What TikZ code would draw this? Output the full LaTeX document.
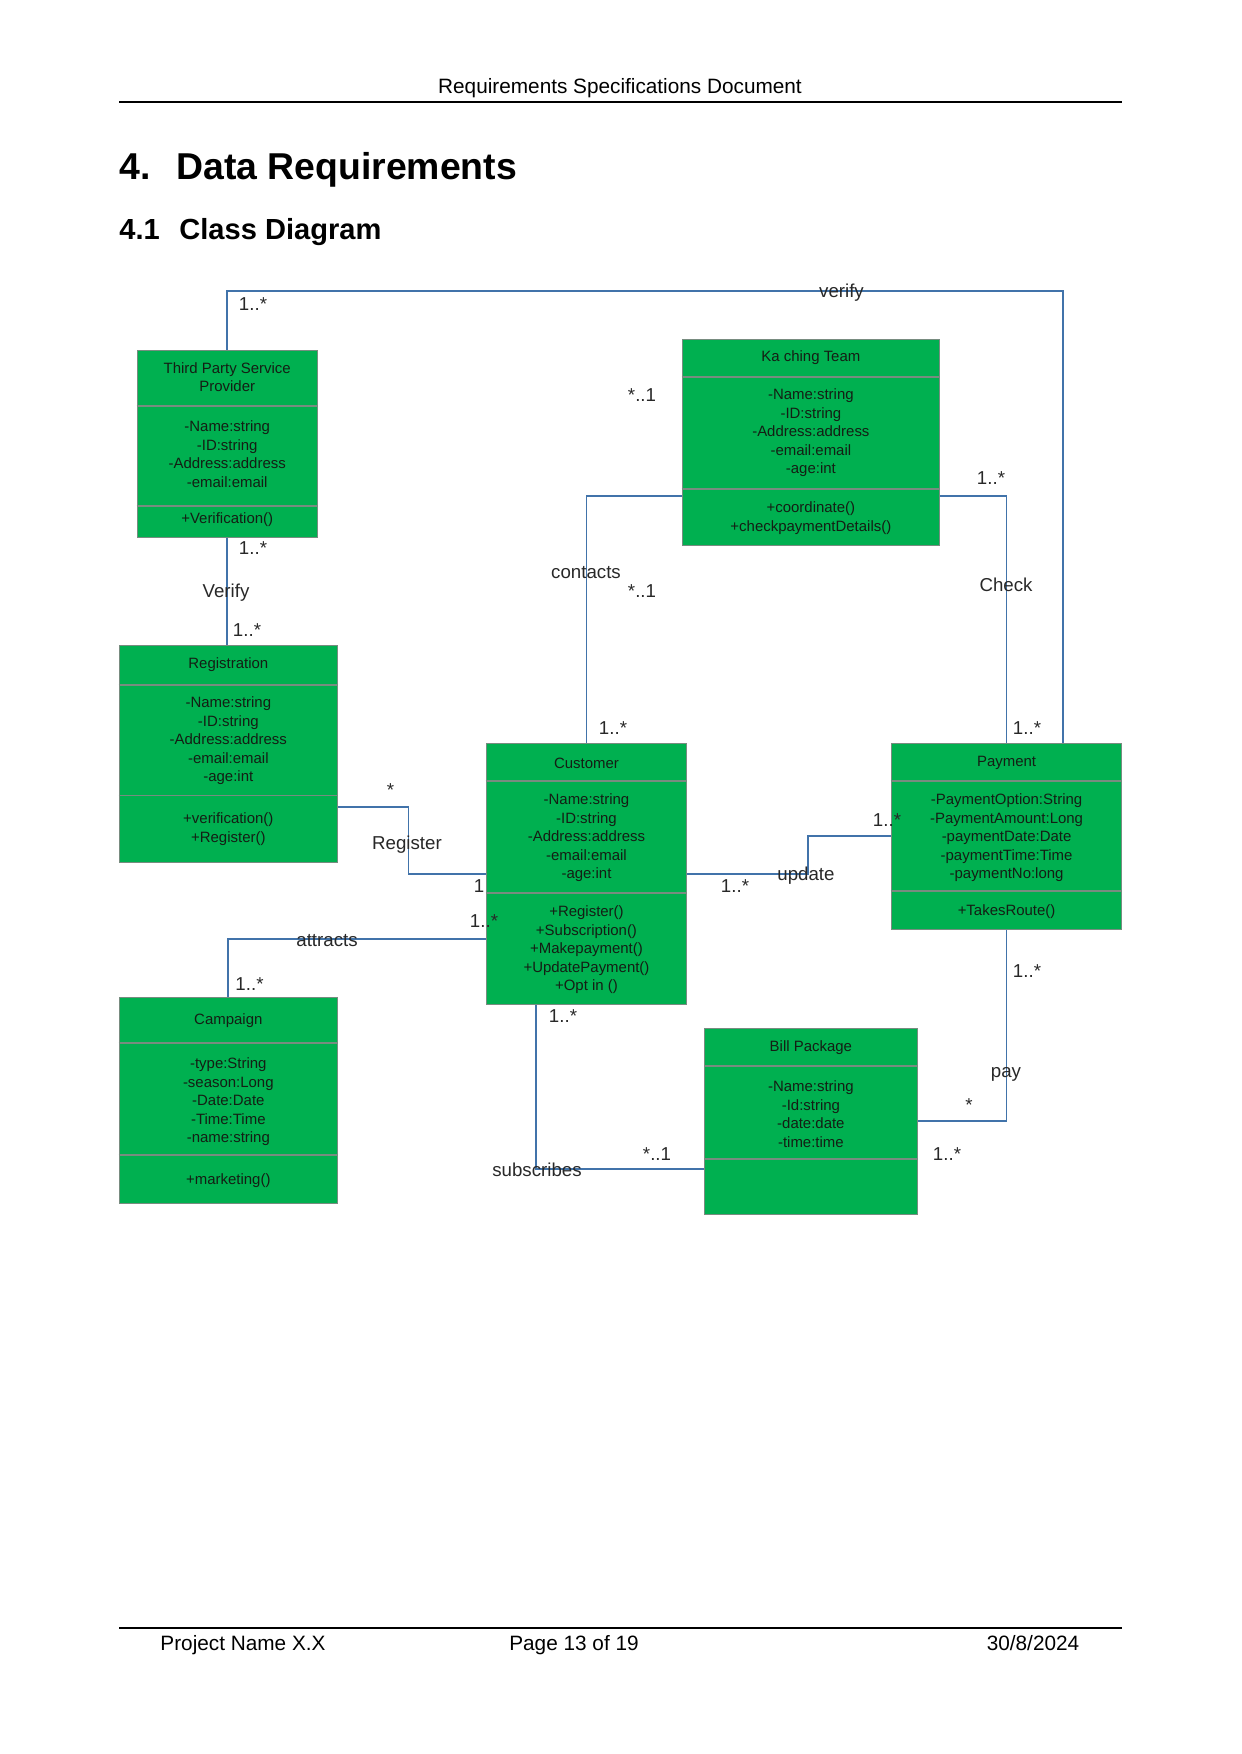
\documentclass[tikz,border=0pt]{standalone}
\usepackage{fontspec}
\setmainfont{Liberation Sans}
\usepackage{xcolor}
\usepackage{tikz}
\usetikzlibrary{positioning, calc}

\definecolor{umlgreen}{RGB}{0,176,80}
\definecolor{boxline}{RGB}{120,140,128}
\definecolor{assocblue}{RGB}{65,115,170}
\definecolor{boxtext}{RGB}{20,30,20}
\definecolor{labeltext}{RGB}{40,40,40}

\newcommand{\px}{0.016922cm}
\newcommand{\classfont}{\fontsize{7.2}{8.9}\selectfont}
\newcommand{\labelfont}{\fontsize{9}{10}\selectfont}

\tikzset{
  classbox/.style={draw=boxline, fill=umlgreen, line width=0.6pt, inner sep=0pt, anchor=north west},
  divider/.style={draw=boxline, line width=0.6pt},
  classtext/.style={font=\classfont, text=boxtext, align=center, inner sep=0pt},
  assoc/.style={draw=assocblue, line width=0.8pt},
  mult/.style={font=\labelfont, text=labeltext, inner sep=0pt},
  heading/.style={font=\fontsize{18}{21}\selectfont\bfseries, anchor=base west, inner sep=0pt},
  subheading/.style={font=\fontsize{14}{17}\selectfont\bfseries, anchor=base west, inner sep=0pt},
  pagetext/.style={font=\fontsize{10}{12}\selectfont, anchor=base, inner sep=0pt},
}

\begin{document}
\begin{tikzpicture}[x=0.016922cm, y=-0.016922cm]
        \useasboundingbox (0,0) rectangle (1241,1754);

        % Page header
        \node[pagetext] (hdr) at (620,94) {Requirements Specifications Document};
        \draw[line width=1pt] (119,102) -- (1122,102);
        \node[heading] (secnum) at (119,180) {4.};
        \node[heading] (sectitle) at (176,180) {Data Requirements};
        \node[subheading] (subnum) at (119,239.5) {4.1};
        \node[subheading] (subtitle) at (179,239.5) {Class Diagram};

        % Third Party Service Provider
        \node[classbox, minimum width=180.2*\px, minimum height=187*\px] (tpsp) at (136.5,350) {};
        \draw[divider] (tpsp.west |- 0,406) -- (tpsp.east |- 0,406);
        \draw[divider] (tpsp.west |- 0,506) -- (tpsp.east |- 0,506);
        \node[classtext] (tpspName) at (tpsp.center |- 0,377) {Third Party Service\\Provider};
        \node[classtext] (tpspAttr) at (tpsp.center |- 0,454) {-Name:string\\-ID:string\\-Address:address\\-email:email};
        \node[classtext] (tpspOps) at (tpsp.center |- 0,520) {+Verification()};

        % Ka ching Team
        \node[classbox, minimum width=257.5*\px, minimum height=206*\px] (kct) at (681.5,339) {};
        \draw[divider] (kct.west |- 0,377) -- (kct.east |- 0,377);
        \draw[divider] (kct.west |- 0,489) -- (kct.east |- 0,489);
        \node[classtext] (kctName) at (kct.center |- 0,358) {Ka ching Team};
        \node[classtext] (kctAttr) at (kct.center |- 0,433) {-Name:string\\-ID:string\\-Address:address\\-email:email\\-age:int};
        \node[classtext] (kctOps) at (kct.center |- 0,518) {+coordinate()\\+checkpaymentDetails()};

        % Registration
        \node[classbox, minimum width=218.2*\px, minimum height=217*\px] (reg) at (118.6,644.5) {};
        \draw[divider] (reg.west |- 0,685) -- (reg.east |- 0,685);
        \draw[divider] (reg.west |- 0,795.6) -- (reg.east |- 0,795.6);
        \node[classtext] (regName) at (reg.center |- 0,665) {Registration};
        \node[classtext] (regAttr) at (reg.center |- 0,741) {-Name:string\\-ID:string\\-Address:address\\-email:email\\-age:int};
        \node[classtext] (regOps) at (reg.center |- 0,829) {+verification()\\+Register()};

        % Customer
        \node[classbox, minimum width=200.5*\px, minimum height=261*\px] (cust) at (485.6,743) {};
        \draw[divider] (cust.west |- 0,781) -- (cust.east |- 0,781);
        \draw[divider] (cust.west |- 0,893) -- (cust.east |- 0,893);
        \node[classtext] (custName) at (cust.center |- 0,763) {Customer};
        \node[classtext] (custAttr) at (cust.center |- 0,838) {-Name:string\\-ID:string\\-Address:address\\-email:email\\-age:int};
        \node[classtext] (custOps) at (cust.center |- 0,950) {+Register()\\+Subscription()\\+Makepayment()\\+UpdatePayment()\\+Opt in ()};

        % Payment
        \node[classbox, minimum width=230.5*\px, minimum height=186*\px] (pay) at (890.7,743) {};
        \draw[divider] (pay.west |- 0,781) -- (pay.east |- 0,781);
        \draw[divider] (pay.west |- 0,891) -- (pay.east |- 0,891);
        \node[classtext] (payName) at (pay.center |- 0,763) {Payment};
        \node[classtext] (payAttr) at (pay.center |- 0,838) {-PaymentOption:String\\-PaymentAmount:Long\\-paymentDate:Date\\-paymentTime:Time\\-paymentNo:long};
        \node[classtext] (payOps) at (pay.center |- 0,912) {+TakesRoute()};

        % Campaign
        \node[classbox, minimum width=218.2*\px, minimum height=206*\px] (camp) at (118.6,997) {};
        \draw[divider] (camp.west |- 0,1043) -- (camp.east |- 0,1043);
        \draw[divider] (camp.west |- 0,1155) -- (camp.east |- 0,1155);
        \node[classtext] (campName) at (camp.center |- 0,1021) {Campaign};
        \node[classtext] (campAttr) at (camp.center |- 0,1102) {-type:String\\-season:Long\\-Date:Date\\-Time:Time\\-name:string};
        \node[classtext] (campOps) at (camp.center |- 0,1181) {+marketing()};

        % Bill Package
        \node[classbox, minimum width=212.5*\px, minimum height=186*\px] (bill) at (704,1028) {};
        \draw[divider] (bill.west |- 0,1066) -- (bill.east |- 0,1066);
        \draw[divider] (bill.west |- 0,1159) -- (bill.east |- 0,1159);
        \node[classtext] (billName) at (bill.center |- 0,1048) {Bill Package};
        \node[classtext] (billAttr) at (bill.center |- 0,1114) {-Name:string\\-Id:string\\-date:date\\-time:time};

        % Associations
        \draw[assoc] (tpsp.north) |- (1063,291) -- (pay.north -| 1063,0);
        \draw[assoc] (tpsp.south) -- (tpsp.south |- reg.north);
        \draw[assoc] (cust.north) |- (kct.west |- 0,496);
        \draw[assoc] (kct.east |- 0,496) -| (pay.north);
        \draw[assoc] (reg.east |- 0,807) -| (408.5,874) -- (cust.west |- 0,874);
        \draw[assoc] (cust.east |- 0,874) -| (808,836) -- (pay.west |- 0,836);
        \draw[assoc] (cust.west |- 0,939) -| (camp.north);
        \draw[assoc] (cust.south -| 536,0) |- (bill.west |- 0,1169);
        \draw[assoc] (pay.south) |- (bill.east |- 0,1121);

        % Labels
        \node[mult] (lVerifyTop) at (841.5,293) {verify};
        \node[mult] (mTpspTop) at (253,304) {1..*};
        \node[mult] (mTpspBot) at (253,548) {1..*};
        \node[mult] (lVerify) at (226,593) {Verify};
        \node[mult] (mRegTop) at (247,630) {1..*};
        \node[mult] (mKctLeft) at (642,395) {*..1};
        \node[mult] (lContacts) at (586,573) {contacts};
        \node[mult] (mContacts) at (642,591) {*..1};
        \node[mult] (mCustTop) at (613,728) {1..*};
        \node[mult] (mKctRight) at (991,478) {1..*};
        \node[mult] (lCheck) at (1006,585) {Check};
        \node[mult] (mPayTop) at (1027,728) {1..*};
        \node[mult] (mRegRight) at (390.5,790) {*};
        \node[mult] (lRegister) at (407,845) {Register};
        \node[mult] (mCustLeft) at (479,886) {1};
        \node[mult] (mCustRight) at (735,886) {1..*};
        \node[mult] (lUpdate) at (806,876) {update};
        \node[mult] (mPayLeft) at (887,820) {1..*};
        \node[mult] (lAttracts) at (327,941) {attracts};
        \node[mult] (mCustAttr) at (484,921) {1..*};
        \node[mult] (mCampTop) at (249.5,984) {1..*};
        \node[mult] (mCustBot) at (563,1016) {1..*};
        \node[mult] (lSubscribes) at (537,1170) {subscribes};
        \node[mult] (mBillLeft) at (657,1154) {*..1};
        \node[mult] (mPayBot) at (1027,971) {1..*};
        \node[mult] (lPay) at (1006,1074) {pay};
        \node[mult] (mBillRight) at (969,1105) {*};
        \node[mult] (mBillRightB) at (947,1154) {1..*};

        % Page footer
        \draw[line width=0.6pt] (119,1628) -- (1122,1628);
        \node[pagetext] (ftrName) at (243,1650) {Project Name X.X};
        \node[pagetext] (ftrPage) at (574,1650) {Page 13 of 19};
        \node[pagetext] (ftrDate) at (1033,1650) {30/8/2024};

    \end{tikzpicture}
\end{document}
